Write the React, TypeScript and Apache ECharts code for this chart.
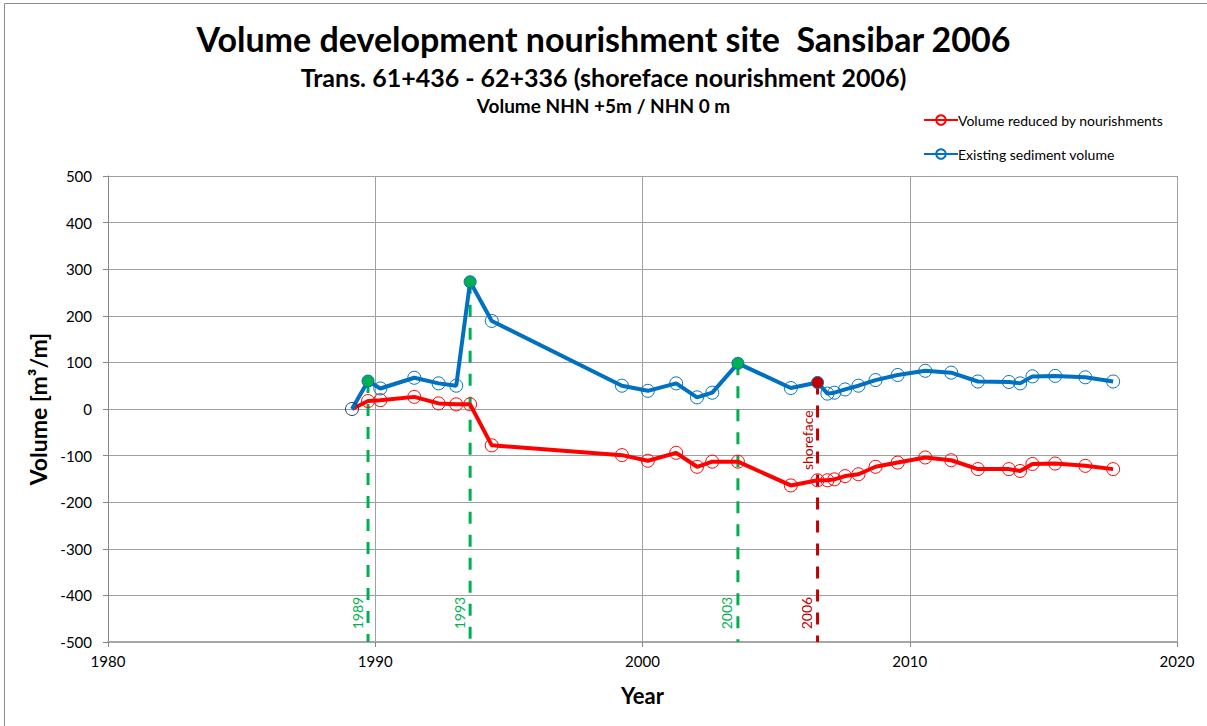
import React, { useEffect, useRef } from 'react';
import * as echarts from 'echarts';

const seriesYears = [1989.13, 1989.73, 1990.19, 1991.46, 1992.37, 1993.03, 1993.55, 1994.36, 1999.23, 2000.2, 2001.26, 2002.04, 2002.61, 2003.57, 2005.55, 2006.55, 2006.92, 2007.18, 2007.58, 2008.08, 2008.72, 2009.55, 2010.58, 2011.55, 2012.55, 2013.71, 2014.13, 2014.59, 2015.44, 2016.57, 2017.61];
const existingVolume = [0, 60, 44, 67, 55, 50, 273, 189, 50, 39, 55, 25, 35, 98, 45, 57, 33, 35, 42, 50, 62, 73, 82, 78, 59, 58, 55, 70, 71, 68, 59];
const reducedVolume = [0, 17, 19, 26, 12, 10, 10, -78, -99, -111, -94, -124, -113, -113, -164, -153, -153, -151, -144, -140, -124, -115, -104, -110, -129, -129, -133, -118, -117, -122, -129];

const nourishYears = [1989.73, 1993.55, 2003.57, 2006.55];
const nourishTops = [60, 273, 98, 57];
const nourishLabels = ['1989', '1993', '2003', '2006'];
const nourishColors = ['#00B050', '#00B050', '#00B050', '#C00000'];
const nourishLabelValue = -438;
const shorefaceLabel = 'shoreface';
const shorefaceLabelValue = -67;

const xMin = 1980, xMax = 2020, xStep = 10;
const yMin = -500, yMax = 500, yStep = 100;

const RED_NAME = 'Volume reduced by nourishments';
const BLUE_NAME = 'Existing sediment volume';
const FONT = 'Lato, "Open Sans", sans-serif';

export default function App() {
  const ref = useRef<HTMLDivElement>(null);
  useEffect(() => {
    if (!ref.current) return;
    const chart = echarts.init(ref.current, undefined, { renderer: 'svg' });

    const blueData = seriesYears.map((y, i) => {
      const k = nourishYears.indexOf(y);
      const item: any = { value: [y, existingVolume[i]] };
      if (i === 0) item.itemStyle = { borderColor: '#203864', color: 'rgba(255,255,255,0)' };
      else if (k >= 0) {
        item.itemStyle = { color: nourishColors[k], borderColor: '#0070C0', borderWidth: 1 };
        item.symbolSize = 12;
      }
      return item;
    });
    const redData = seriesYears.map((y, i) => {
      const item: any = { value: [y, reducedVolume[i]] };
      if (i === 0) item.symbol = 'none';
      return item;
    });

    const dashed = nourishYears.map((y, k) => ({
      name: 'n' + k,
      type: 'line',
      z: 1,
      symbol: 'none',
      silent: true,
      data: [[y, nourishTops[k]], [y, yMin]],
      lineStyle: { color: nourishColors[k], width: 3, type: [12, 11] },
    }));

    chart.setOption({
      animation: false,
      textStyle: { fontFamily: FONT },
      title: [
        { text: 'Volume development nourishment site  Sansibar 2006', left: 'center', top: 16, textStyle: { fontFamily: FONT, fontSize: 34, fontWeight: 'bold', color: '#000' } },
        { text: 'Trans. 61+436 - 62+336 (shoreface nourishment 2006)', left: 'center', top: 59, textStyle: { fontFamily: FONT, fontSize: 25, fontWeight: 'bold', color: '#000' } },
        { text: 'Volume NHN +5m / NHN 0 m', left: 'center', top: 91, textStyle: { fontFamily: FONT, fontSize: 19, fontWeight: 'bold', color: '#000' } },
      ],
      legend: {
        data: [RED_NAME, BLUE_NAME],
        orient: 'vertical',
        left: 918,
        top: 108,
        itemGap: 20,
        itemWidth: 34,
        itemHeight: 12,
        textStyle: { fontFamily: FONT, fontSize: 14, color: '#000', padding: [0, 0, 0, -5] },
      },
      grid: { left: 108, right: 30, top: 176, bottom: 84, containLabel: false },
      xAxis: {
        type: 'value', min: xMin, max: xMax, interval: xStep,
        name: 'Year', nameLocation: 'middle', nameGap: 42,
        nameTextStyle: { fontFamily: FONT, fontSize: 22, fontWeight: 'bold', color: '#000' },
        axisLine: { show: true, onZero: false, lineStyle: { color: '#a6a6a6', width: 2 } },
        axisTick: { show: true, length: 5, lineStyle: { color: '#868686' } },
        axisLabel: { fontFamily: FONT, fontSize: 15, color: '#000', margin: 11, formatter: (v: number) => String(v) },
        splitLine: { show: true, lineStyle: { color: '#a0a0a0', width: 1 } },
      },
      yAxis: {
        type: 'value', min: yMin, max: yMax, interval: yStep,
        name: 'Volume [m³/m]', nameLocation: 'middle', nameGap: 56,
        nameTextStyle: { fontFamily: FONT, fontSize: 23, fontWeight: 'bold', color: '#000' },
        axisLine: { show: true, onZero: false, lineStyle: { color: '#868686', width: 1 } },
        axisTick: { show: true, length: 5, lineStyle: { color: '#868686' } },
        axisLabel: { fontFamily: FONT, fontSize: 15, color: '#000', margin: 16 },
        splitLine: { show: true, lineStyle: { color: '#a0a0a0', width: 1 } },
      },
      series: [
        ...dashed,
        {
          name: RED_NAME, type: 'line', z: 3, data: redData,
          symbol: 'circle', symbolSize: 13,
          lineStyle: { color: '#FF0000', width: 4 },
          itemStyle: { color: 'rgba(255,255,255,0)', borderColor: '#FF0000', borderWidth: 1 },
        },
        {
          name: BLUE_NAME, type: 'line', z: 4, data: blueData,
          symbol: 'circle', symbolSize: 13,
          lineStyle: { color: '#0070C0', width: 4 },
          itemStyle: { color: 'rgba(255,255,255,0)', borderColor: '#0070C0', borderWidth: 1 },
        },
      ],
    });

    const texts: any[] = nourishYears.map((y, k) => {
      const p = chart.convertToPixel({ gridIndex: 0 }, [y, nourishLabelValue]) as number[];
      return {
        type: 'text', x: p[0] - 11, y: p[1], rotation: Math.PI / 2, z: 10,
        style: { text: nourishLabels[k], fill: nourishColors[k] === '#00B050' ? '#00B050' : '#C00000', font: '14px ' + FONT, align: 'center', verticalAlign: 'middle' },
      };
    });
    const sp = chart.convertToPixel({ gridIndex: 0 }, [nourishYears[3], shorefaceLabelValue]) as number[];
    texts.push({
      type: 'text', x: sp[0] - 10, y: sp[1], rotation: Math.PI / 2, z: 10,
      style: { text: shorefaceLabel, fill: '#C00000', font: '14px ' + FONT, align: 'center', verticalAlign: 'middle' },
    });
    texts.push({
      type: 'rect', shape: { x: 4.5, y: 3.5, width: 1220, height: 740 }, silent: true,
      style: { fill: 'none', stroke: '#8c8c8c', lineWidth: 1 },
    });
    chart.setOption({ graphic: texts });

    return () => chart.dispose();
  }, []);
  return <div ref={ref} style={{ position: 'absolute', left: 0, top: 0, width: 1207, height: 726 }} />;
}
